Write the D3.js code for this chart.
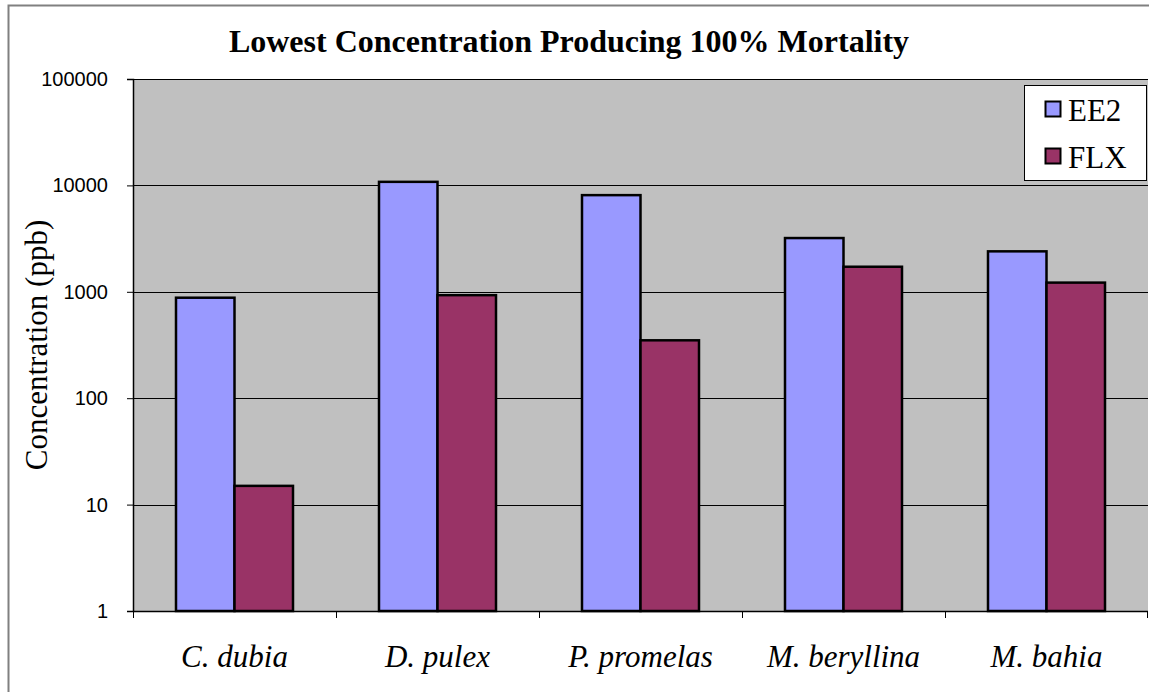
<!DOCTYPE html>
<html>
<head>
<meta charset="utf-8">
<script src="https://cdn.jsdelivr.net/npm/d3@7"></script>
<style>
  body { margin: 0; background: #fff; }
  svg { display: block; }
</style>
</head>
<body>
<div id="chart"></div>
<script>
// data
const species = ["C. dubia", "D. pulex", "P. promelas", "M. beryllina", "M. bahia"];
const seriesNames = ["EE2", "FLX"];
const ee2 = [880, 10800, 8100, 3200, 2400];
const flx = [15, 930, 350, 1720, 1220];
const yTicks = [1, 10, 100, 1000, 10000, 100000];
const colors = ["#9999FF", "#993366"];

const W = 1149, H = 692;
const margin = { top: 79, right: 1, bottom: 81, left: 133 };
const serif = "'Liberation Serif', 'Times New Roman', serif";

const svg = d3.select("#chart").append("svg")
    .attr("width", W).attr("height", H);

// outer frame of the chart object
svg.append("rect")
    .attr("x", 8.5).attr("y", 5.5)
    .attr("width", W + 20).attr("height", H + 20)
    .attr("fill", "#fff")
    .attr("stroke", "#808080")
    .attr("stroke-width", 2);

const x = d3.scaleBand()
    .domain(species)
    .range([margin.left, W - margin.right]);

const x1 = d3.scaleBand()
    .domain(seriesNames)
    .range([0, x.bandwidth()])
    .paddingOuter(0.735);

const y = d3.scaleLog()
    .domain([1, 100000])
    .range([H - margin.bottom, margin.top]);

// plot area
svg.append("rect")
    .attr("x", margin.left).attr("y", margin.top)
    .attr("width", x.range()[1] - margin.left)
    .attr("height", y(1) - y(100000))
    .attr("fill", "#C0C0C0");

// gridlines
svg.append("g")
    .selectAll("line")
    .data(yTicks.slice(1))
    .join("line")
    .attr("x1", margin.left).attr("x2", x.range()[1])
    .attr("y1", d => Math.round(y(d)) + 0.5)
    .attr("y2", d => Math.round(y(d)) + 0.5)
    .attr("stroke", "#000")
    .attr("stroke-width", 1);

// bars
const rows = species.map((s, i) => ({ s, vals: [ee2[i], flx[i]] }));
const groups = svg.append("g")
    .selectAll("g")
    .data(rows)
    .join("g")
    .attr("transform", d => `translate(${x(d.s)},0)`);

groups.selectAll("rect")
    .data(d => d.vals.map((v, k) => ({ key: seriesNames[k], v, k })))
    .join("rect")
    .attr("x", d => x1(d.key))
    .attr("width", x1.bandwidth())
    .attr("y", d => y(d.v))
    .attr("height", d => y(1) - y(d.v))
    .attr("fill", d => colors[d.k])
    .attr("stroke", "#000")
    .attr("stroke-width", 2.5);

// y axis
const yAxis = d3.axisLeft(y)
    .tickValues(yTicks)
    .tickFormat(d3.format("d"))
    .tickSize(6)
    .tickPadding(19);

const gy = svg.append("g")
    .attr("transform", `translate(${margin.left},0)`)
    .call(yAxis);
gy.select(".domain").attr("stroke", "#000").attr("stroke-width", 1.5);
gy.selectAll(".tick line").attr("stroke", "#000");
gy.selectAll(".tick text")
    .attr("font-family", "Arial, 'Liberation Sans', sans-serif")
    .attr("font-size", 20)
    .attr("fill", "#000");

// x axis: ticks sit between categories
const xAxisLine = svg.append("g");
xAxisLine.append("line")
    .attr("x1", margin.left).attr("x2", x.range()[1])
    .attr("y1", y(1) + 0.5).attr("y2", y(1) + 0.5)
    .attr("stroke", "#000").attr("stroke-width", 1.5);
xAxisLine.selectAll("line.tk")
    .data(species.map(s => x(s)).concat([x.range()[1] - 1]))
    .join("line")
    .attr("class", "tk")
    .attr("x1", d => d + 0.5).attr("x2", d => d + 0.5)
    .attr("y1", y(1)).attr("y2", y(1) + 7)
    .attr("stroke", "#000");

svg.append("g")
    .selectAll("text")
    .data(species)
    .join("text")
    .attr("x", d => x(d) + x.bandwidth() / 2)
    .attr("y", 667)
    .attr("text-anchor", "middle")
    .attr("font-family", serif)
    .attr("font-style", "italic")
    .attr("font-size", 31)
    .text(d => d);

// y axis title
svg.append("text")
    .attr("transform", `translate(47,${(y(1) + y(100000)) / 2}) rotate(-90)`)
    .attr("text-anchor", "middle")
    .attr("font-family", serif)
    .attr("font-size", 31)
    .text("Concentration (ppb)");

// title
svg.append("text")
    .attr("x", 569)
    .attr("y", 52)
    .attr("text-anchor", "middle")
    .attr("font-family", serif)
    .attr("font-weight", "bold")
    .attr("font-size", 32)
    .text("Lowest Concentration Producing 100% Mortality");

// legend
const legend = svg.append("g").attr("transform", "translate(1024.5,85.5)");
legend.append("rect")
    .attr("width", 122).attr("height", 95)
    .attr("fill", "#fff").attr("stroke", "#000").attr("stroke-width", 1);

const item = legend.selectAll("g")
    .data(seriesNames)
    .join("g")
    .attr("transform", (d, i) => `translate(21,${16 + i * 47})`);
item.append("rect")
    .attr("width", 15).attr("height", 15)
    .attr("fill", (d, i) => colors[i])
    .attr("stroke", "#000").attr("stroke-width", 2);
item.append("text")
    .attr("x", 22.5).attr("y", 19)
    .attr("font-family", serif)
    .attr("font-size", 31)
    .text(d => d);
</script>
</body>
</html>
